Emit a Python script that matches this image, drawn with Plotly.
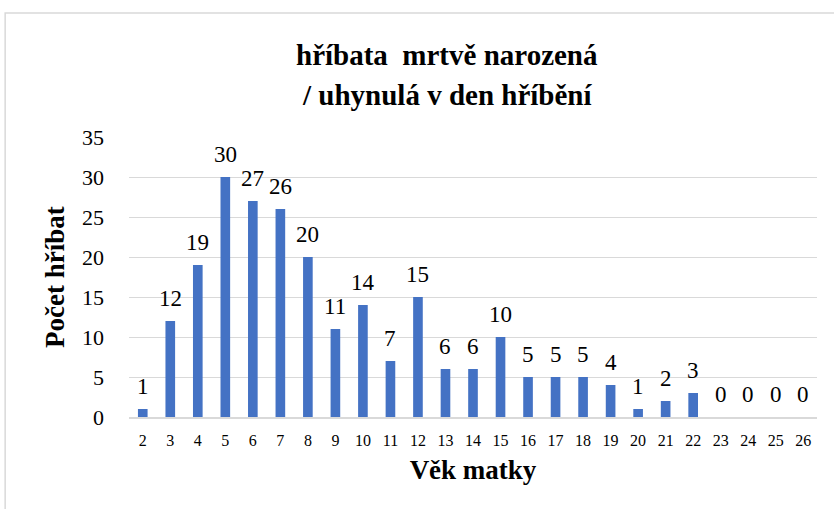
import plotly.graph_objects as go

ages = [str(a) for a in range(2, 27)]
counts = [1, 12, 19, 30, 27, 26, 20, 11, 14, 7, 15, 6, 6, 10, 5, 5, 5, 4, 1, 2, 3, 0, 0, 0, 0]
y_ticks = [0, 5, 10, 15, 20, 25, 30, 35]

title_lines = ["hříbata  mrtvě narozená", "/ uhynulá v den hříbění"]
x_title = "Věk matky"
y_title = "Počet hříbat"

FONT = "Liberation Serif, Times New Roman, serif"

fig = go.Figure(go.Bar(
    x=ages, y=counts,
    marker=dict(color="#4472C4", line=dict(width=0)),
    width=0.35,
    cliponaxis=False,
    hoverinfo="x+y",
))

# value labels: placed at each category's position on the category axis
for i, c in enumerate(counts):
    fig.add_annotation(
        x=i, y=c, xref="x", yref="y", text=str(c), showarrow=False,
        xanchor="center", yanchor="middle", yshift=23,
        font=dict(family=FONT, size=23, color="#000000"),
    )

fig.update_layout(
    width=834, height=509,
    paper_bgcolor="white", plot_bgcolor="white",
    margin=dict(l=129, r=17, t=137, b=92),
    showlegend=False,
    font=dict(family=FONT, color="#000000"),
)
for i, line in enumerate(title_lines):
    fig.add_annotation(
        text=line, xref="paper", yref="paper", x=0.462, y=1 + (137 - (55 + 40 * i)) / 280,
        xanchor="center", yanchor="middle", showarrow=False,
        font=dict(family=FONT, size=29, color="#000000", weight="bold"),
    )
# y-axis title
fig.add_annotation(
    text=y_title, xref="paper", yref="paper", x=(55 - 129) / 688, y=(417 - 277) / 280,
    xanchor="center", yanchor="middle", textangle=-90, showarrow=False,
    font=dict(family=FONT, size=27, color="#000000", weight="bold"),
)
fig.update_xaxes(
    type="category", showgrid=False, ticks="", showline=True, linecolor="#d9d9d9", linewidth=2,
    tickfont=dict(family=FONT, size=16, color="#000000"), ticklabelstandoff=8,
    title=dict(text=x_title, font=dict(family=FONT, size=27, color="#000000", weight="bold"), standoff=12),
)
fig.update_yaxes(
    range=[0, 35], tickvals=y_ticks, showgrid=True, gridcolor="#d9d9d9", gridwidth=1,
    zeroline=False, showline=False, ticks="",
    tickfont=dict(family=FONT, size=22, color="#000000"), ticklabelstandoff=24,
)
fig.add_shape(type="rect", xref="paper", yref="paper", x0=-0.180, x1=1.05, y0=-0.5, y1=1.443,
              line=dict(color="#d9d9d9", width=1.5), fillcolor="rgba(0,0,0,0)", layer="below")

fig.write_html("out.html", config={"displayModeBar": False},
               post_script="document.body.style.margin='0';")
